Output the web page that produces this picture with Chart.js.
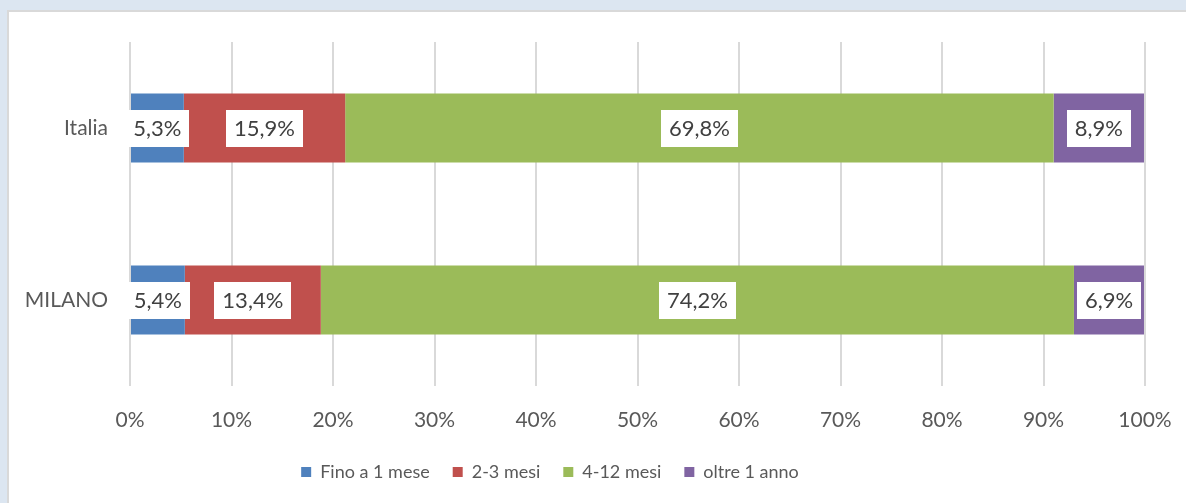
<!DOCTYPE html>
<html>
<head>
<meta charset="utf-8">
<script src="https://cdn.jsdelivr.net/npm/chart.js@4.4.1/dist/chart.umd.min.js"></script>
<style>
  html, body { margin: 0; padding: 0; width: 1186px; height: 503px; overflow: hidden; background: #dce6f1; }
  #panel { position: absolute; left: 7px; top: 10px; right: 0; bottom: 0; background: #fff; border-top: 2px solid #d9d9d9; border-left: 2px solid #d9d9d9; }
  #c { position: absolute; left: -45px; top: 0; }
</style>
</head>
<body>
<div id="panel"></div>
<canvas id="c" width="1242" height="503"></canvas>
<script>
// ---- data ----
const categories = ['Italia', 'MILANO'];
const seriesNames = ['Fino a 1 mese', '2-3 mesi', '4-12 mesi', 'oltre 1 anno'];
const fino1Mese = [5.3, 5.4];
const mesi2_3 = [15.9, 13.4];
const mesi4_12 = [69.8, 74.2];
const oltre1Anno = [8.9, 6.9];
const xTicks = [0, 10, 20, 30, 40, 50, 60, 70, 80, 90, 100];
const colors = ['#4f81bd', '#c0504d', '#9bbb59', '#8064a2'];

const seriesValues = [fino1Mese, mesi2_3, mesi4_12, oltre1Anno];

const fmt = v => v.toFixed(1).replace('.', ',') + '%';

const boxLabels = {
  id: 'boxLabels',
  afterDatasetsDraw(chart) {
    const ctx = chart.ctx;
    ctx.save();
    ctx.font = '22px Lato';
    ctx.textAlign = 'center';
    ctx.textBaseline = 'middle';
    chart.data.datasets.forEach((ds, i) => {
      const meta = chart.getDatasetMeta(i);
      meta.data.forEach((bar, j) => {
        const txt = fmt(ds.data[j]);
        const cx = (bar.x + bar.base) / 2;
        const cy = bar.y;
        const w = ctx.measureText(txt).width + 16;
        const h = 37;
        ctx.fillStyle = '#ffffff';
        ctx.fillRect(Math.round(cx - w / 2), Math.round(cy - h / 2), Math.round(w), h);
        ctx.fillStyle = '#404040';
        ctx.fillText(txt, cx, cy + 1);
      });
    });
    ctx.restore();
  }
};

function draw() {
  new Chart(document.getElementById('c'), {
    type: 'bar',
    data: {
      labels: categories,
      datasets: seriesNames.map((name, i) => ({
        label: name,
        data: seriesValues[i],
        backgroundColor: colors[i],
        borderWidth: 0,
        categoryPercentage: 1,
        barPercentage: 0.4
      }))
    },
    options: {
      indexAxis: 'y',
      responsive: false,
      animation: false,
      layout: { padding: { top: 42, right: 52, bottom: 12, left: 0 } },
      scales: {
        x: {
          stacked: true,
          min: 0,
          max: 100,
          afterBuildTicks: s => { s.ticks = xTicks.map(v => ({ value: v })); },
          afterFit: s => { s.height = 54; },
          ticks: {
            callback: v => v + '%',
            color: '#595959',
            font: { family: 'Lato', size: 21 },
            padding: 22
          },
          grid: { color: '#d9d9d9', lineWidth: 2, drawTicks: false },
          border: { display: false }
        },
        y: {
          stacked: true,
          afterFit: s => { s.width = 175; },
          ticks: {
            color: '#595959',
            font: { family: 'Lato', size: 21 },
            padding: 22
          },
          grid: { display: false, drawTicks: false },
          border: { display: false }
        }
      },
      plugins: {
        legend: {
          position: 'bottom',
          labels: {
            boxWidth: 10,
            boxHeight: 10,
            padding: 23,
            color: '#595959',
            font: { family: 'Lato', size: 18 }
          }
        },
        tooltip: { enabled: false }
      }
    },
    plugins: [boxLabels]
  });
}

Promise.all([
  document.fonts.load('21px Lato'),
  document.fonts.load('22px Lato'),
  document.fonts.load('18px Lato')
]).then(draw, draw);
</script>
</body>
</html>
